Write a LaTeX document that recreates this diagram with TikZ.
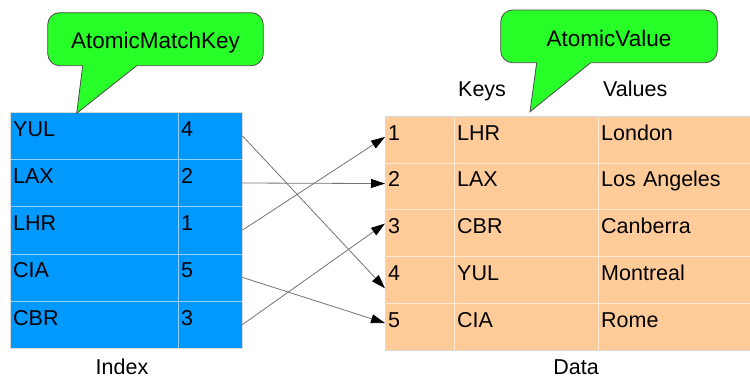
\documentclass[tikz,border=0pt]{standalone}
\usepackage{fontspec}
\setmainfont{Liberation Sans}
\usepackage{tikz}
\usetikzlibrary{
    arrows.meta,
    positioning
}
\definecolor{indexblue}{RGB}{0,153,255}
\definecolor{indexgrid}{RGB}{150,210,255}
\definecolor{datapeach}{RGB}{255,204,153}
\definecolor{datagrid}{RGB}{255,234,214}
\definecolor{bubblegreen}{RGB}{40,255,40}
\tikzset
{
  idxcell/.style={draw=indexgrid,fill=indexblue,anchor=north west,inner xsep=3pt,inner ysep=8.5pt,
    text height=15.5pt,text depth=14.7pt,align=left,font=\fontsize{21.5}{24}\selectfont},
  datcell/.style={draw=datagrid,fill=datapeach,anchor=north west,inner xsep=3pt,inner ysep=8.5pt,
    text height=15.5pt,text depth=14.2pt,align=left,font=\fontsize{21.5}{24}\selectfont},
  bubble/.style={draw=black!70,fill=bubblegreen,line width=0.8pt,rounded corners=12pt,
    text height=19.5pt,text depth=0pt,font=\fontsize{22.5}{24}\selectfont},
  caption/.style={anchor=base,inner sep=0pt,text depth=0pt,font=\fontsize{21.5}{24}\selectfont},
  link/.style={draw=black!55,line width=0.8pt,-{Triangle[length=14pt,width=9pt,color=black]}}
}

\begin{document}
\begin{tikzpicture}[x=1pt,y=-1pt]
        \useasboundingbox (0,0) rectangle (750,378);

        % Index table
        \foreach \code/\pos [count=\i] in {YUL/4, LAX/2, LHR/1, CIA/5, CBR/3} {
            \node[idxcell, text width=162pt] (icode\i) at (10, 112+47.2*\i-47.2) {\code};
            \node[idxcell, text width=58pt] (ipos\i) at (178, 112+47.2*\i-47.2) {\pos};
        }
        \draw[black!15] (icode1.north west) rectangle (ipos5.south east);
        \node[caption] (idxlbl) at (122,374) {Index};

        % Data table
        \foreach \num/\key/\city [count=\i] in {1/LHR/London, 2/LAX/Los Angeles, 3/CBR/Canberra, 4/YUL/Montreal, 5/CIA/Rome} {
            \node[datcell, text width=63pt] (dnum\i) at (385, 116+46.7*\i-46.7) {\num};
            \node[datcell, text width=138pt] (dkey\i) at (454, 116+46.7*\i-46.7) {\key};
            \node[datcell, text width=162pt] (dcity\i) at (598, 116+46.7*\i-46.7) {\city};
        }
        \draw[black!15] (dnum1.north west) rectangle (dcity5.south east);
        \node[caption] (datalbl) at (576,374) {Data};
        \node[caption, anchor=base west] (keyslbl) at (458,96.7) {Keys};
        \node[caption, anchor=base west] (valueslbl) at (603,96.7) {Values};

        % Pointers from index to data rows
        \draw[link] (ipos1.east) -- ([yshift=-8.7pt]dnum4.west);
        \draw[link] (ipos2.east) -- ([yshift=2.7pt]dnum2.west);
        \draw[link] (ipos3.east) -- ([yshift=2.6pt]dnum1.west);
        \draw[link] (ipos4.east) -- ([yshift=3.3pt]dnum5.west);
        \draw[link] (ipos5.east) -- ([yshift=9.4pt]dnum3.west);

        % Callouts
        \node[bubble, minimum width=215.6pt, minimum height=53pt] (keybubble) at (155.5,39.2) {AtomicMatchKey};
        \fill[bubblegreen] (82.95,63.7) -- (76.7,113.3) -- (139.2,63.7) -- cycle;
        \draw[black!70, line width=0.8pt] (82.7,65.7) -- (76.7,113.3) -- (136.7,65.7);

        \node[bubble, minimum width=216.6pt, minimum height=52.7pt] (valbubble) at (609,36.35) {AtomicValue};
        \fill[bubblegreen] (536.95,60.7) -- (530,111.7) -- (593.2,60.7) -- cycle;
        \draw[black!70, line width=0.8pt] (536.7,62.7) -- (530,111.7) -- (590.7,62.7);
    \end{tikzpicture}
\end{document}
